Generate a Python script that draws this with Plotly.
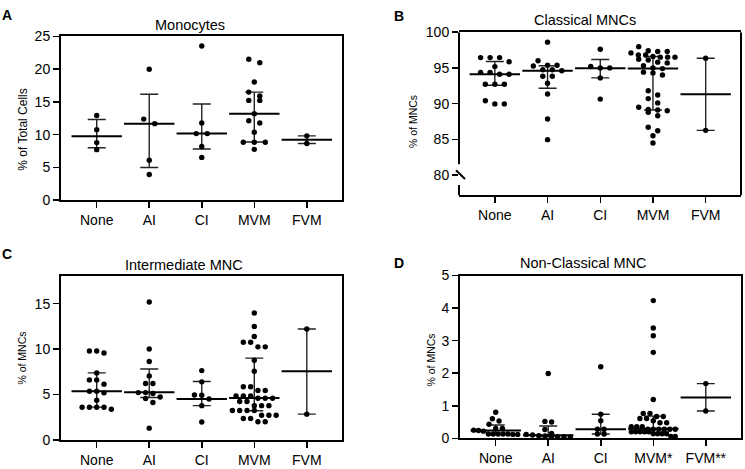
import plotly.graph_objects as go

W, H = 745, 469

cats = ["None", "AI", "CI", "MVM", "FVM"]
cats_d = ["None", "AI", "CI", "MVM*", "FVM**"]

# Panel A - Monocytes (% of total cells)
mono_none = [12.92, 10.75, 8.79, 7.71]
mono_ai = [19.98, 12.37, 11.68, 6.09, 3.93]
mono_ci = [23.52, 11.78, 10.16, 10.16, 8.2, 6.53]
mono_mvm = [21.5, 20.96, 18.02, 16.49, 15.9, 15.22, 15.22, 13.2, 12.12, 11.78,
            10.36, 8.84, 8.84, 8.84, 7.76]
mono_fvm = [9.82, 8.64]
mono_med = [9.77, 11.68, 10.16, 13.2, 9.23]
mono_q1 = [8.0, 5.0, 7.81, 8.87, 8.64]
mono_q3 = [12.32, 16.15, 14.68, 16.49, 9.82]

# Panel B - Classical MNCs (% of MNCs)
cls_none = [96.44, 96.44, 96.44, 95.86, 95.18, 94.37, 94.37, 94.1, 94.1, 92.7,
            92.7, 92.7, 90.41, 89.96, 89.96]
cls_ai = [98.6, 96.0, 95.36, 95.36, 95.26, 94.73, 94.73, 94.6, 93.83, 93.83,
          92.84, 91.35, 87.84, 84.96]
cls_ci = [97.61, 95.2, 95.0, 95.0, 93.6, 90.63]
cls_mvm = [97.97, 97.4, 97.3, 97.3, 97.1, 96.8, 96.8, 96.6, 96.5, 96.5, 96.5,
           96.2, 96.1, 95.8, 95.7, 95.3, 95.0, 94.9, 94.4, 94.3, 94.0, 91.8,
           91.2, 90.7, 90.1, 89.5, 89.2, 89.1, 89.0, 88.8, 88.3, 86.7, 86.2,
           85.5, 84.5]
cls_fvm = [96.35, 86.26]
cls_med = [94.1, 94.59, 94.96, 94.9, 91.3]
cls_q1 = [92.57, 92.16, 93.6, 89.1, 86.26]
cls_q3 = [95.9, 95.3, 96.17, 96.6, 96.35]

# Panel C - Intermediate MNC (% of MNCs)
int_none = [9.79, 9.79, 9.57, 7.37, 6.6, 6.6, 6.13, 5.35, 5.35, 5.17, 4.36,
            3.58, 3.58, 3.58, 3.58, 3.37]
int_ai = [15.18, 10.0, 8.62, 7.02, 6.2, 6.2, 5.2, 5.2, 5.1, 4.72, 4.54, 4.11,
          1.28]
int_ci = [7.62, 6.38, 4.93, 4.9, 4.5, 3.76, 1.95]
int_mvm = [13.97, 12.48, 11.38, 10.74, 10.74, 10.24, 10.24, 8.76, 7.55, 5.85,
           5.85, 5.43, 5.43, 4.82, 4.82, 4.82, 4.57, 4.57, 4.57, 4.22, 4.22,
           3.76, 3.76, 3.76, 3.23, 3.23, 3.23, 3.23, 2.7, 2.7, 2.7, 2.34, 2.34,
           1.99, 1.99]
int_fvm = [12.2, 2.82]
int_med = [5.35, 5.24, 4.5, 4.6, 7.55]
int_q1 = [3.6, 4.65, 3.76, 3.2, 2.82]
int_q3 = [7.37, 7.8, 6.42, 9.0, 12.2]

# Panel D - Non-Classical MNC (% of MNCs)
ncl_none = [0.8, 0.6, 0.53, 0.43, 0.3, 0.3, 0.25, 0.24, 0.22, 0.13, 0.13, 0.13,
            0.13, 0.13, 0.12, 0.12]
ncl_ai = [1.99, 0.52, 0.5, 0.27, 0.15, 0.12, 0.1, 0.08, 0.07, 0.06, 0.05, 0.05,
          0.04]
ncl_ci = [2.2, 0.74, 0.54, 0.28, 0.28, 0.13, 0.13]
ncl_mvm = [4.23, 3.39, 3.15, 2.64, 1.19, 0.76, 0.76, 0.67, 0.67, 0.61, 0.61,
           0.54, 0.48, 0.48, 0.36, 0.36, 0.36, 0.28, 0.28, 0.28, 0.28, 0.28,
           0.28, 0.2, 0.2, 0.2, 0.2, 0.2, 0.14, 0.14, 0.14, 0.14, 0.06, 0.06]
ncl_fvm = [1.68, 0.84]
ncl_med = [0.24, 0.09, 0.28, 0.29, 1.25]
ncl_q1 = [0.13, 0.05, 0.13, 0.15, 0.84]
ncl_q3 = [0.41, 0.38, 0.74, 0.68, 1.68]

FONT = "Liberation Sans, Arial, Helvetica, sans-serif"
XR = [-0.68, 4.67]

panels = [
    dict(ax="", groups=[mono_none, mono_ai, mono_ci, mono_mvm, mono_fvm],
         med=mono_med, q1=mono_q1, q3=mono_q3, labels=cats,
         xdom=[61, 342], ytop=29.3, ybot=199, yr=[0, 25], tick=[0, 5, 10, 15, 20, 25],
         S=11.0),
    dict(ax="2", groups=[cls_none, cls_ai, cls_ci, cls_mvm, cls_fvm],
         med=cls_med, q1=cls_q1, q3=cls_q3, labels=cats,
         xdom=[459, 741], ytop=25, ybot=194, yr=[77.16, 100], tick=[80, 85, 90, 95, 100],
         S=9.5),
    dict(ax="3", groups=[int_none, int_ai, int_ci, int_mvm, int_fvm],
         med=int_med, q1=int_q1, q3=int_q3, labels=cats,
         xdom=[61, 342], ytop=277, ybot=447, yr=[0, 18.1], tick=[0, 5, 10, 15],
         S=7.3),
    dict(ax="4", groups=[ncl_none, ncl_ai, ncl_ci, ncl_mvm, ncl_fvm],
         med=ncl_med, q1=ncl_q1, q3=ncl_q3, labels=cats_d,
         xdom=[460, 741], ytop=277, ybot=445.5, yr=[0, 5], tick=[0, 1, 2, 3, 4, 5],
         S=6.7),
]


def swarm(vals, center, px_x, px_y, S, h=5.0, wmax=22.0):
    n = len(vals)
    order = sorted(range(n), key=lambda i: -vals[i])
    rows = []
    for i in order:
        if rows and (vals[rows[-1][0]] - vals[i]) * px_y < h:
            rows[-1].append(i)
        else:
            rows.append([i])
    xs = [center] * n
    for r in rows:
        k = len(r)
        sp = S if k == 1 else min(S, 2 * wmax / (k - 1))
        for j, i in enumerate(r):
            xs[i] = center + (j - (k - 1) / 2) * sp / px_x
    return xs


fig = go.Figure()
layout = {}
for p in panels:
    a = p["ax"]
    xd = [p["xdom"][0] / W, p["xdom"][1] / W]
    yd = [1 - p["ybot"] / H, 1 - p["ytop"] / H]
    px_x = (p["xdom"][1] - p["xdom"][0]) / (XR[1] - XR[0])
    px_y = (p["ybot"] - p["ytop"]) / (p["yr"][1] - p["yr"][0])
    xa, ya = "x" + a, "y" + a
    # median + IQR
    fig.add_trace(go.Scatter(
        x=list(range(5)), y=p["med"], xaxis=xa, yaxis=ya, mode="markers",
        marker=dict(symbol="line-ew", size=36, color="black",
                    line=dict(width=2, color="black")),
        error_y=dict(type="data", symmetric=False,
                     array=[q - m for q, m in zip(p["q3"], p["med"])],
                     arrayminus=[m - q for q, m in zip(p["q1"], p["med"])],
                     width=9, thickness=1.4, color="#222"),
        showlegend=False, hoverinfo="skip", cliponaxis=False))
    for gi, vals in enumerate(p["groups"]):
        xs = swarm(vals, gi, px_x, px_y, p["S"])
        fig.add_trace(go.Scatter(
            x=xs, y=vals, xaxis=xa, yaxis=ya, mode="markers",
            marker=dict(size=5.4, color="black"), showlegend=False,
            hoverinfo="skip", cliponaxis=False))
    broken = a == "2"
    layout["xaxis" + a] = dict(
        domain=xd, range=XR, tickvals=list(range(5)), ticktext=p["labels"],
        showline=True, linewidth=2, linecolor="black", mirror=True,
        ticks="outside", ticklen=6, tickwidth=1.5, tickcolor="black",
        showgrid=False, zeroline=False, anchor=ya, fixedrange=True,
        tickfont=dict(size=14, color="black", family=FONT))
    layout["yaxis" + a] = dict(
        domain=yd, range=p["yr"], tickvals=p["tick"],
        showline=not broken, linewidth=2, linecolor="black", mirror=True,
        ticks="outside", ticklen=6, tickwidth=1.5, tickcolor="black",
        showgrid=False, zeroline=False, anchor=xa, fixedrange=True,
        tickfont=dict(size=14, color="black", family=FONT))

fig.update_layout(**layout)

# Broken left axis for panel B
shapes = [
    dict(type="line", xref="x2 domain", yref="y2", x0=0, x1=0, y0=100, y1=81.5,
         line=dict(color="black", width=2)),
    dict(type="line", xref="x2 domain", yref="y2", x0=0, x1=0, y0=78.6, y1=77.16,
         line=dict(color="black", width=2)),
    dict(type="line", xref="x2 domain", yref="y2", x0=-0.0106, x1=0.0213,
         y0=80.68, y1=79.46, line=dict(color="black", width=2)),
    dict(type="line", xref="x2 domain", yref="y2", x0=1, x1=1, y0=100, y1=77.16,
         line=dict(color="black", width=2)),
]

ann = []


def txt(x, y, s, size, bold=False, angle=0):
    ann.append(dict(x=x / W, y=1 - y / H, xref="paper", yref="paper", text=s,
                    showarrow=False, xanchor="center", yanchor="middle",
                    textangle=angle,
                    font=dict(size=size, color="black", family=FONT,
                              weight="bold" if bold else "normal")))


txt(7, 7, "A", 14, True)
txt(399, 8, "B", 14, True)
txt(7, 255, "C", 14, True)
txt(399, 264, "D", 14, True)
txt(190, 18, "Monocytes", 14.5)
txt(585, 12, "Classical MNCs", 14.5)
txt(184, 266, "Intermediate MNC", 14.5)
txt(583, 264, "Non-Classical MNC", 14.5)
txt(23, 126, "% of Total Cells", 12, angle=-90)
txt(413, 118, "% of MNCs", 10.5, angle=-90)
txt(22, 363, "% of MNCs", 10.5, angle=-90)
txt(431, 365, "% of MNCs", 10.5, angle=-90)

fig.update_layout(
    width=W, height=H, margin=dict(l=0, r=0, t=0, b=0),
    paper_bgcolor="white", plot_bgcolor="white",
    shapes=shapes, annotations=ann, showlegend=False, hovermode=False,
    font=dict(family=FONT, color="black"),
)

fig.write_html(
    "out.html",
    config={"displayModeBar": False, "staticPlot": True},
    post_script="document.body.style.margin='0';"
                "document.body.style.overflow='hidden';",
)
